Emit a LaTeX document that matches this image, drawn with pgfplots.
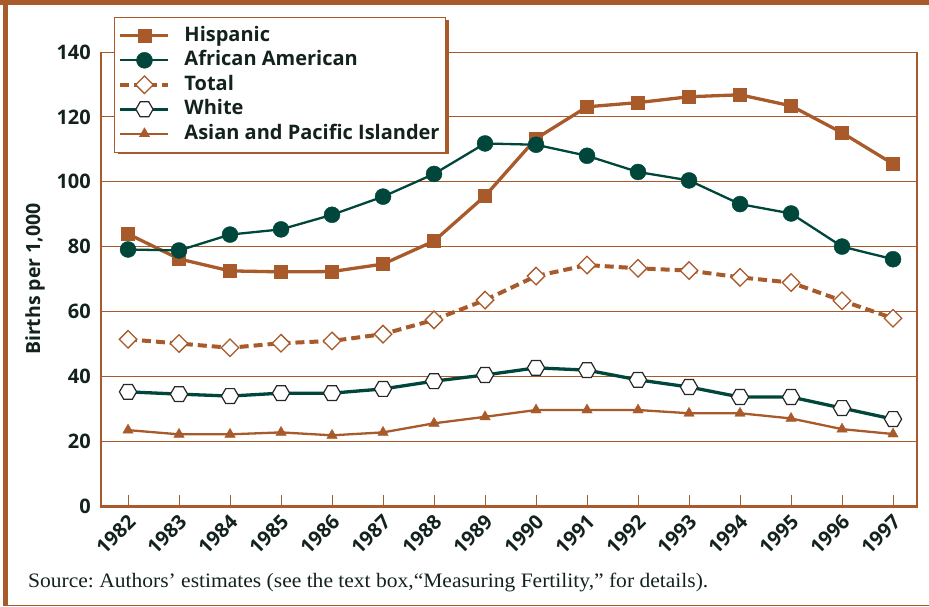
\documentclass[border=0pt]{standalone}
\usepackage{pgfplots}
\pgfplotsset{compat=1.18}
\usepackage{fontspec}
\setmainfont{Liberation Serif}[FakeStretch=1.05]
\newfontfamily\osans{Open Sans}
\definecolor{brn}{HTML}{A85A2B}
\definecolor{tl}{HTML}{00463B}
\definecolor{txt}{HTML}{14221F}
\pgfdeclareplotmark{hexagon}{%
  \pgfpathmoveto{\pgfqpointpolar{0}{\pgfplotmarksize}}%
  \pgfpathlineto{\pgfqpointpolar{60}{\pgfplotmarksize}}%
  \pgfpathlineto{\pgfqpointpolar{120}{\pgfplotmarksize}}%
  \pgfpathlineto{\pgfqpointpolar{180}{\pgfplotmarksize}}%
  \pgfpathlineto{\pgfqpointpolar{240}{\pgfplotmarksize}}%
  \pgfpathlineto{\pgfqpointpolar{300}{\pgfplotmarksize}}%
  \pgfpathclose
  \pgfusepathqfillstroke}
\begin{document}
\frenchspacing
\begin{tikzpicture}[x=1pt,y=1pt]
\useasboundingbox (-101,-100) rectangle (828,506);
\fill[brn] (-101,501) rectangle (828,506);
\fill[brn] (-97.7,-100) rectangle (-92.7,506);
\draw[brn, line width=1pt] (-97.7,-99.5) -- (828,-99.5);
% legend shadow (drawn behind the legend)
\fill[brn] (16.5,485.5) rectangle (348,352);
\begin{axis}[
  at={(0pt,0pt)}, anchor=south west,
  scale only axis, width=816pt, height=454pt,
  xmin=1981.47, xmax=1997.47, ymin=0, ymax=140,
  xtick={1982,1983,1984,1985,1986,1987,1988,1989,1990,1991,1992,1993,1994,1995,1996,1997},
  xticklabels={1982,1983,1984,1985,1986,1987,1988,1989,1990,1991,1992,1993,1994,1995,1996,1997},
  ytick={0,20,40,60,80,100,120,140},
  yticklabels={0,20,40,60,80,100,120,140},
  xtick pos=bottom, ytick pos=left, tick align=inside,
  major tick length=11pt,
  ytick style={draw=none},
  xtick style={draw=brn, line width=0.8pt},
  ymajorgrids, major grid style={brn, line width=1pt},
  axis line style={brn, line width=1pt},
  yticklabel style={font=\osans\bfseries\fontsize{20}{24}\selectfont, text=txt, anchor=east, inner sep=0pt, xshift=-10pt},
  xticklabel style={font=\osans\bfseries\fontsize{20}{24}\selectfont, text=txt, xshift=4pt, yshift=-12pt, rotate=45, anchor=east, inner sep=0pt},
  ylabel={Births per 1,000},
  every axis y label/.style={at={(axis description cs:-0.0809,0.5)}, rotate=90, anchor=center, font=\osans\bfseries\fontsize{19.5}{23}\selectfont, text=txt},
  clip=false,
  legend style={at={(axis description cs:0.0159,1.077)}, anchor=north west,
    draw=brn, line width=1pt, fill=white, text=txt,
    font=\osans\bfseries\fontsize{20}{24}\selectfont,
    row sep=0pt, inner xsep=4pt, inner ysep=6pt,
    /tikz/every odd column/.append style={column sep=12pt},
    nodes={text height=14.5pt, text depth=4pt, inner ysep=3pt}},
  legend cell align=left,
  legend image code/.code={\draw[mark repeat=2,mark phase=2] plot coordinates {(0pt,0pt)(24pt,0pt)(48pt,0pt)};},
]
\addplot[brn, line width=3.3pt, mark=square*, mark size=6.5pt, mark options={line width=0.4pt}] coordinates {
(1982,83.9)(1983,76.2)(1984,72.5)(1985,72.2)(1986,72.3)(1987,74.6)(1988,81.7)(1989,95.6)
(1990,113.3)(1991,123.1)(1992,124.4)(1993,126.2)(1994,126.8)(1995,123.4)(1996,115.1)(1997,105.5)};
\addlegendentry{Hispanic}
\addplot[tl, line width=2.3pt, mark=*, mark size=8pt, mark options={line width=0.4pt}] coordinates {
(1982,79.1)(1983,78.8)(1984,83.7)(1985,85.3)(1986,89.8)(1987,95.4)(1988,102.4)(1989,111.8)
(1990,111.4)(1991,108.0)(1992,103.0)(1993,100.4)(1994,93.1)(1995,90.2)(1996,80.0)(1997,76.1)};
\addlegendentry{African American}
\addplot[brn, line width=4pt, dash pattern=on 9pt off 5pt, mark=square*, mark size=6.2pt, mark options={solid, rotate=45, fill=white, draw=brn, line width=1.3pt}] coordinates {
(1982,51.4)(1983,50.1)(1984,48.8)(1985,50.2)(1986,50.9)(1987,53.0)(1988,57.4)(1989,63.5)
(1990,70.9)(1991,74.3)(1992,73.3)(1993,72.6)(1994,70.5)(1995,68.9)(1996,63.3)(1997,57.9)};
\addlegendentry{Total}
\addplot[tl, line width=3.3pt, mark=hexagon, mark size=8.6pt, mark options={draw=black!85, fill=white, line width=1.2pt}] coordinates {
(1982,35.2)(1983,34.5)(1984,33.9)(1985,34.8)(1986,34.8)(1987,36.1)(1988,38.5)(1989,40.4)
(1990,42.6)(1991,41.9)(1992,38.9)(1993,36.7)(1994,33.6)(1995,33.6)(1996,30.2)(1997,26.8)};
\addlegendentry{White}
\addplot[brn, line width=2.3pt, mark=triangle*, mark size=6pt, mark options={line width=0.4pt}] coordinates {
(1982,23.4)(1983,22.1)(1984,22.1)(1985,22.7)(1986,21.8)(1987,22.7)(1988,25.5)(1989,27.5)
(1990,29.6)(1991,29.6)(1992,29.6)(1993,28.6)(1994,28.6)(1995,27.0)(1996,23.7)(1997,22.2)};
\addlegendentry{Asian and Pacific Islander}
\end{axis}
\draw[brn, line width=2.2pt] (0,454) -- (0,0);
\draw[brn, line width=2.2pt] (816,454) -- (816,0);
\draw[brn, line width=3pt] (-1.1,-0.5) -- (817.1,-0.5);
\node[anchor=base west, inner sep=0pt, text=txt, font=\fontsize{20.5}{24}\selectfont] at (-73,-81) {Source: Authors’ estimates (see the text box,“Measuring Fertility,” for details).};
\end{tikzpicture}
\end{document}
